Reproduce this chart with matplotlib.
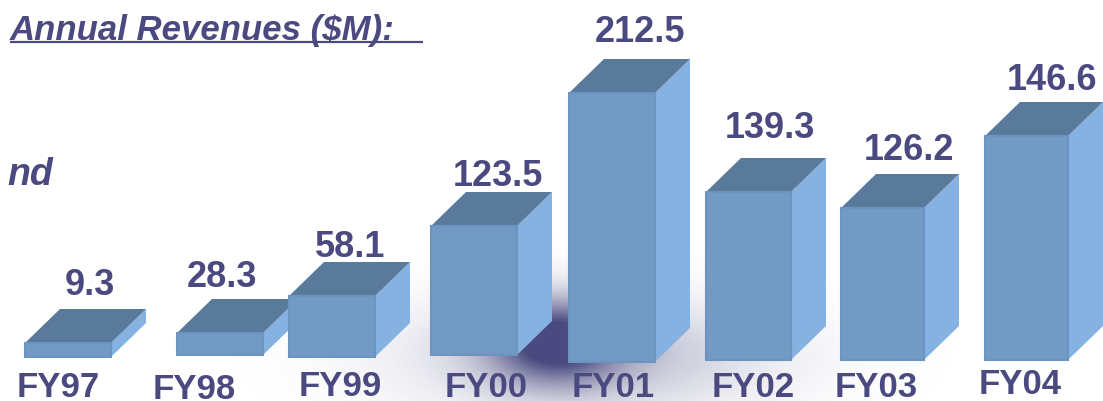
import numpy as np
import matplotlib
matplotlib.use("Agg")
import matplotlib.pyplot as plt
from matplotlib.patches import Polygon

# data
years = ["FY97", "FY98", "FY99", "FY00", "FY01", "FY02", "FY03", "FY04"]
revenues = [9.3, 28.3, 58.1, 123.5, 212.5, 139.3, 126.2, 146.6]

bar_left = [25, 177, 289, 431, 569, 706, 841, 985]
bar_width = [86, 86, 86, 86, 86, 85, 83, 83]
bar_floor = [44, 46, 44, 46, 39, 41, 41, 41]
bar_drawn = [14, 22, 61, 129, 269, 168, 152, 224]
value_x = [89.5, 222, 350, 498, 640, 770, 909, 1052]
value_base = [106, 114, 144, 215, 359, 263, 241, 311]
year_x = [58, 194, 340, 486, 613, 753, 876, 1020]
year_base = [4, 2, 5, 4, 4, 4, 4, 7]
DX, DY = 35, 34

INK = "#4a4a80"
FRONT = "#7399c5"
EDGE = "#6d93bf"
SIDE = "#85b2e0"
TOP = "#5a7a9b"

plt.rcParams["font.family"] = ["Liberation Sans", "DejaVu Sans"]
fig = plt.figure(figsize=(11.03, 4.01), dpi=100)
ax = fig.add_axes([0, 0, 1, 1])
ax.set_xlim(0, 1103)
ax.set_ylim(0, 401)
ax.axis("off")

# soft floor shadow
xx, yy = np.meshgrid(np.arange(0, 1103), np.arange(0, 401))
glow = (0.95 * np.exp(-((xx - 555) / 62.0) ** 2 - ((yy - 60) / 40.0) ** 2)
        + 0.35 * np.exp(-((xx - 590) / 170.0) ** 2 - ((yy - 45) / 55.0) ** 2))
rgba = np.zeros(xx.shape + (4,))
rgba[..., :3] = matplotlib.colors.to_rgb(INK)
rgba[..., 3] = np.clip(glow, 0, 1)
ax.imshow(rgba, extent=(0, 1103, 0, 401), origin="lower", aspect="auto",
          zorder=1, interpolation="bilinear")

# front faces
ax.bar(bar_left, bar_drawn, width=bar_width, bottom=bar_floor, align="edge",
       color=FRONT, edgecolor=EDGE, linewidth=1.5, zorder=3)

# depth faces
for x, w, f, h in zip(bar_left, bar_width, bar_floor, bar_drawn):
    r, t = x + w, f + h
    ax.add_patch(Polygon([(r, f), (r + DX, f + DY), (r + DX, t + DY), (r, t)],
                         closed=True, facecolor=SIDE, edgecolor="none", zorder=2))
    ax.add_patch(Polygon([(x, t), (x + DX, t + DY), (r + DX, t + DY), (r, t)],
                         closed=True, facecolor=TOP, edgecolor="none", zorder=2))

# value labels
for v, x, y in zip(revenues, value_x, value_base):
    ax.text(x, y, f"{v:.1f}", color=INK, fontsize=26, fontweight="bold",
            ha="center", va="baseline", zorder=5)

# category labels
for s, x, y in zip(years, year_x, year_base):
    ax.text(x, y, s, color=INK, fontsize=25, fontweight="bold",
            ha="center", va="baseline", zorder=5)

# heading
ax.text(10, 361, "Annual Revenues ($M):", color=INK, fontsize=25, fontweight="bold",
        fontstyle="italic", ha="left", va="baseline", zorder=5)
ax.plot([10, 423], [359, 359], color=INK, linewidth=1.6, zorder=5, solid_capstyle="butt")

# clipped fragment of a word at the left edge
ax.text(53, 216, "nd", color=INK, fontsize=27, fontweight="bold",
        fontstyle="italic", ha="right", va="baseline", zorder=5)

fig.savefig("out.png", dpi=100, facecolor="white")
